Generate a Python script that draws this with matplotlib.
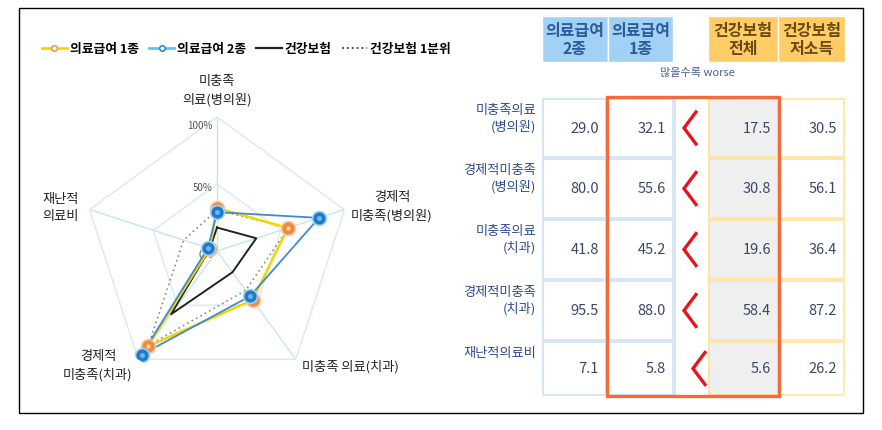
import numpy as np
import matplotlib
matplotlib.use('Agg')
import matplotlib.pyplot as plt
from matplotlib.lines import Line2D
from matplotlib.patches import Rectangle

plt.rcParams['font.family'] = ['Noto Sans CJK KR', 'DejaVu Sans']

# data
items = ['미충족의료\n(병의원)', '경제적미충족\n(병의원)', '미충족의료\n(치과)',
         '경제적미충족\n(치과)', '재난적의료비']
col_heads = ['의료급여\n2종', '의료급여\n1종', '건강보험\n전체', '건강보험\n저소득']
aid2 = [29.0, 80.0, 41.8, 95.5, 7.1]      # 의료급여 2종
aid1 = [32.1, 55.6, 45.2, 88.0, 5.8]      # 의료급여 1종
nhi_all = [17.5, 30.8, 19.6, 58.4, 5.6]   # 건강보험 전체
nhi_low = [30.5, 56.1, 36.4, 87.2, 26.2]  # 건강보험 저소득(1분위)
rticks = [0, 50, 100]

W, H = 882, 431
fig = plt.figure(figsize=(W / 100, H / 100), dpi=100)

# overlay in pixel coordinates for the table and free labels
ov = fig.add_axes([0, 0, 1, 1])
ov.set_xlim(0, W)
ov.set_ylim(H, 0)
ov.axis('off')
ov.add_patch(Rectangle((19, 9), 844, 405, fill=False, ec='black', lw=1))

# ---------------- radar ----------------
cx, cy, R = 217, 252, 134
ax = fig.add_axes([(cx - R) / W, (H - cy - R) / H, 2 * R / W, 2 * R / H], projection='polar')
ax.set_facecolor('none')
ax.set_theta_zero_location('N')
ax.set_theta_direction(-1)
ax.set_ylim(0, 100)
ax.grid(False)
ax.spines['polar'].set_visible(False)
ax.set_xticks([])
ax.set_yticks([])

ang = np.arange(5) * 2 * np.pi / 5
angc = np.append(ang, ang[0])
ax.plot(angc, [50] * 6, color='#d6ebf0', lw=1, zorder=1)
ax.plot(angc, [100] * 6, color='#dde8ea', lw=1, zorder=1)
for a in ang:
    ax.plot([a, a], [0, 100], color='#c6e6ee', lw=1, zorder=1)
for r in rticks:
    ax.annotate(f'{r}%', (0, r), xytext=(-3, -2), textcoords='offset points',
                ha='right', va='top' if r == 100 else 'center', fontsize=7, color='#555555', zorder=2)

def close(v):
    return np.append(v, v[0])

ax.plot(angc, close(nhi_low), color='#8a8a8a', lw=1.2, ls=(0, (1, 2)), zorder=3)
ax.plot(angc, close(nhi_all), color='#222222', lw=1.4, zorder=3)
ax.plot(angc, close(aid1), color='#f2d600', lw=1.8, zorder=4)
ax.plot(angc, close(aid2), color='#3d8ad8', lw=1.3, zorder=5)
ax.plot(ang, aid1, 'o', ms=10, mfc='#f08a3c', mec='#f7c9a0', mew=1.2, zorder=6)
ax.plot(ang, aid1, 'o', ms=3, mfc='#ffd9b8', mec='none', zorder=7)
ax.plot(ang, aid2, 'o', ms=10, mfc='#1f7acb', mec='#9fd3f5', mew=1.2, zorder=8)
ax.plot(ang, aid2, 'o', ms=3.5, mfc='#6fb9f0', mec='none', zorder=9)

lab_kw = dict(fontsize=9.5, color='#222222', linespacing=1.45, fontweight='medium')
ov.text(217, 91, '미충족\n의료(병의원)', ha='center', va='center', **lab_kw)
ov.text(392, 207, '경제적\n미충족(병의원)', ha='center', va='center', **lab_kw)
ov.text(42, 208, '재난적\n의료비', ha='left', va='center', **lab_kw)
ov.text(98, 366, '경제적\n미충족(치과)', ha='center', va='center', **lab_kw)
ov.text(350, 367, '미충족 의료(치과)', ha='center', va='center', **lab_kw)

handles = [
    Line2D([], [], color='#f2d600', lw=2, marker='o', ms=4, mfc='white', mec='#f08a3c'),
    Line2D([], [], color='#5bc5f2', lw=2, marker='o', ms=4, mfc='white', mec='#1f7acb'),
    Line2D([], [], color='#222222', lw=1.6),
    Line2D([], [], color='#555555', lw=1.4, ls=(0, (1, 1.5))),
]
fig.legend(handles, ['의료급여 1종', '의료급여 2종', '건강보험', '건강보험 1분위'],
           loc='center left', bbox_to_anchor=(30 / W, 1 - 50 / H), ncol=4, frameon=False,
           handlelength=2.0, handletextpad=0.2, columnspacing=0.8,
           prop={'size': 9.2, 'weight': 'bold'})

# ---------------- table ----------------
xe = [542, 607, 674, 708, 779, 845]
ye = [99, 159, 220, 281, 342, 397]
blue_line = '#cfe2f3'
yel_line = '#ffe49a'

ov.add_patch(Rectangle((xe[3], ye[0]), xe[4] - xe[3], ye[-1] - ye[0], fc='#efefef', ec='none', zorder=1))
for i in range(5):
    y0, y1 = ye[i], ye[i + 1]
    for c in (0, 1):
        ov.add_patch(Rectangle((xe[c] + 1, y0 + 1), xe[c + 1] - xe[c] - 2, y1 - y0 - 2,
                               fill=False, ec=blue_line, lw=1.2, zorder=2))
    for c in (3, 4):
        ov.add_patch(Rectangle((xe[c] + 1, y0 + 1), xe[c + 1] - xe[c] - 2, y1 - y0 - 2,
                               fill=False, ec=yel_line, lw=1.2, zorder=2))
ov.plot([xe[2] + 1, xe[2] + 1], [ye[0], ye[-1]], color=blue_line, lw=1.2, zorder=2)
ov.add_patch(Rectangle((xe[1], ye[0] - 1), xe[4] - xe[1], ye[-1] - ye[0] + 1,
                       fill=False, ec='#f26b3a', lw=2.4, zorder=5))

cols = [aid2, aid1, None, nhi_all, nhi_low]
for i in range(5):
    ymid = (ye[i] + ye[i + 1]) / 2
    ov.text(536, ye[i] + 5, items[i], ha='right', va='top', fontsize=9.5,
            color='#2e4c8c', linespacing=1.3, fontweight='medium')
    for c, vals in enumerate(cols):
        if vals is None:
            continue
        ov.text(xe[c + 1] - 8, ymid, f'{vals[i]:.1f}', ha='right', va='center',
                fontsize=10.5, color='#3a4766')
    ax_x = 690 if i < 4 else 699
    ov.plot([ax_x + 6, ax_x - 6, ax_x + 6], [ymid - 16, ymid, ymid + 16],
            color='#e8141c', lw=2.4, solid_joinstyle='miter', zorder=6)

# headers
hdr_fc = ['#a3d0f5', '#a3d0f5', '#ffcc66', '#ffcc66']
hdr_tc = ['#2a5c9a', '#2a5c9a', '#6b4a10', '#6b4a10']
hdr_x = [(542, 608), (608, 673), (708, 778), (778, 845)]
for (x0, x1), fc, tc, t in zip(hdr_x, hdr_fc, hdr_tc, col_heads):
    ov.add_patch(Rectangle((x0, 17), x1 - x0, 46, fc=fc, ec='white', lw=1))
    ov.text((x0 + x1) / 2, 40, t, ha='center', va='center', fontsize=11.5,
            fontweight='bold', color=tc, linespacing=1.1)
ov.text(697, 73, '많을수록 worse', ha='center', va='center', fontsize=8, color='#4a5f88')

fig.savefig('out.png', dpi=100)
